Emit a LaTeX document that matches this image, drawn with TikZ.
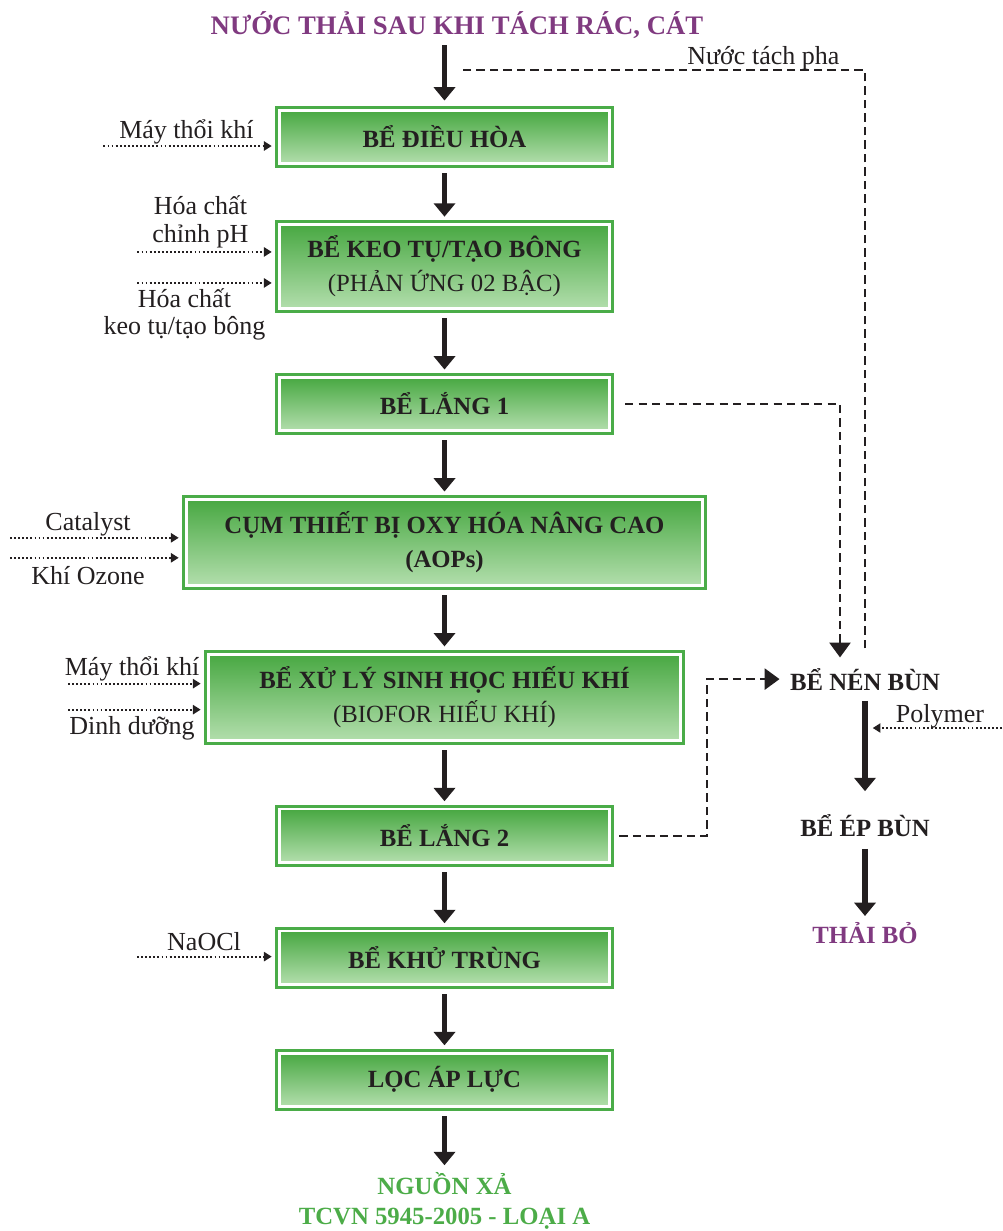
\documentclass[tikz,border=0pt]{standalone}
\usepackage{fontspec}
\setmainfont{Liberation Serif}
\usepackage{xcolor}
\usepackage{tikz}
\usetikzlibrary{arrows.meta, positioning, calc}

\definecolor{tankgreen}{RGB}{74,172,72}
\definecolor{tanktop}{RGB}{72,168,66}
\definecolor{tankbottom}{RGB}{178,222,172}
\definecolor{ink}{RGB}{35,31,32}
\definecolor{plum}{RGB}{128,58,128}
\definecolor{leaf}{RGB}{76,172,72}

\begin{document}
\begin{tikzpicture}[x=0.025cm, y=-0.025cm, node distance=1.72cm,
					tank/.style={rectangle, minimum width=8.25cm, minimum height=1.33cm, inner sep=2pt, outer sep=0pt, top color=tanktop, bottom color=tankbottom, draw=white, line width=2.1pt, preaction={draw=tankgreen, line width=6.3pt}, text=ink, align=center, font=\fontsize{17.6}{24}\selectfont\bfseries},
					plain/.style={text=ink, inner sep=3pt, font=\fontsize{17.6}{21.3}\selectfont\bfseries},
					note/.style={text=ink, inner sep=0pt, align=center, font=\fontsize{18.5}{19.5}\selectfont},
					flow/.style={-{Triangle[width=15pt, length=9.5pt]}, line width=3.2pt, draw=ink, shorten <=7pt, shorten >=5.5pt},
					sludge/.style={-{Triangle[width=15pt, length=10.5pt]}, line width=1.4pt, draw=ink, dash pattern=on 6pt off 3.6pt},
					feed/.style={-{Triangle[width=6.5pt, length=5.5pt]}, line width=1.3pt, draw=ink, dash pattern=on 1.3pt off 1.6pt, shorten >=5.5pt}
				]
					\useasboundingbox (0,0) rectangle (1002,1231);
					
					% Nodes
					\node[plain, text=plum, font=\fontsize{19}{22}\selectfont\bfseries, anchor=base] (nguon) at (457,34.5) {NƯỚC THẢI SAU KHI TÁCH RÁC, CÁT};
					\node[tank] (dieuhoa) at (444.5,137) {BỂ ĐIỀU HÒA};
					\node[tank, minimum height=2.1cm, below=1.52cm of dieuhoa] (keotu) {BỂ KEO TỤ/TẠO BÔNG\\{\mdseries (PHẢN ỨNG 02 BẬC)}};
					\node[tank, below=of keotu] (lang1) {BỂ LẮNG 1};
					\node[tank, minimum width=12.9cm, minimum height=2.15cm, below=of lang1] (aop) {CỤM THIẾT BỊ OXY HÓA NÂNG CAO\\(AOPs)};
					\node[tank, minimum width=11.8cm, minimum height=2.15cm, below=of aop] (sinhhoc) {BỂ XỬ LÝ SINH HỌC HIẾU KHÍ\\{\mdseries (BIOFOR HIẾU KHÍ)}};
					\node[tank, below=of sinhhoc] (lang2) {BỂ LẮNG 2};
					\node[tank, below=of lang2] (khutrung) {BỂ KHỬ TRÙNG};
					\node[tank, below=of khutrung] (locap) {LỌC ÁP LỰC};
					\node[plain, text=leaf, align=center, inner sep=0pt, below=1.65cm of locap] (xa) {NGUỒN XẢ\\TCVN 5945-2005 - LOẠI A};
					
					% Sludge line
					\node[plain, anchor=base] (nenbun) at (865,690) {BỂ NÉN BÙN};
					\node[plain, anchor=base] (epbun) at (865,836) {BỂ ÉP BÙN};
					\node[plain, text=plum, anchor=base] (thaibo) at (865,943) {THẢI BỎ};
					
					% Dosing points
					\coordinate (air1) at ($(dieuhoa.west)+(-176,9)$);
					\coordinate (ph) at ($(keotu.west)+(-142,-14.5)$);
					\coordinate (floc) at ($(keotu.west)+(-142,16.5)$);
					\coordinate (cat) at ($(aop.west)+(-176.4,-4.5)$);
					\coordinate (ozone) at ($(aop.west)+(-176.4,15.5)$);
					\coordinate (air2) at ($(sinhhoc.west)+(-140.4,-13.5)$);
					\coordinate (nutri) at ($(sinhhoc.west)+(-140.4,12.5)$);
					\coordinate (chlor) at ($(khutrung.west)+(-142.4,-1)$);
					\coordinate (poly) at ($(nenbun.base)+(137,38)$);
					\coordinate (merge) at ($(dieuhoa.north)+(14,-40)$);
					\coordinate (bend) at ($(lang2.east)+(97.4,0)$);
					
					\node[note, anchor=base] (blower1) at ($(air1)+(83,-8)$) {Máy thổi khí};
					\node[note, anchor=south] (phlbl) at ($(ph)+(63,-4)$) {Hóa chất\\chỉnh pH};
					\node[note, anchor=north] (floclbl) at ($(floc)+(47,5)$) {Hóa chất\\keo tụ/tạo bông};
					\node[note, anchor=base] (catlbl) at ($(cat)+(78,-7)$) {Catalyst};
					\node[note, anchor=base] (ozonelbl) at ($(ozone)+(78,27)$) {Khí Ozone};
					\node[note, anchor=base] (blower2) at ($(air2)+(64,-8)$) {Máy thổi khí};
					\node[note, anchor=base] (nutrilbl) at ($(nutri)+(64,25)$) {Dinh dưỡng};
					\node[note, anchor=base] (naocl) at ($(chlor)+(67,-6)$) {NaOCl};
					\node[note, anchor=base] (polylbl) at ($(poly)+(-62,-6)$) {Polymer};
					
					% Arrows
					\draw[flow, shorten <=1.5pt, shorten >=7pt] (dieuhoa.north |- nguon.south) -- (dieuhoa.north);
					\draw[flow] (dieuhoa) -- (keotu);
					\draw[flow] (keotu) -- (lang1);
					\draw[flow] (lang1) -- (aop);
					\draw[flow] (aop) -- (sinhhoc);
					\draw[flow] (sinhhoc) -- (lang2);
					\draw[flow] (lang2) -- (khutrung);
					\draw[flow] (khutrung) -- (locap);
					\draw[flow, shorten >=5pt] (locap) -- (xa);
					\draw[flow, line width=4pt, shorten <=4.3pt, shorten >=13pt] (nenbun) -- (epbun);
					\draw[flow, line width=4pt, shorten <=5.7pt, shorten >=1pt] (epbun) -- (thaibo);
					
					\draw[sludge, shorten <=11pt, shorten >=4.3pt] (lang1.east) -| ($(nenbun.north)+(-25,0)$);
					\draw[sludge, shorten <=7pt, shorten >=4.3pt] (lang2.east) -- (bend) |- (nenbun.west);
					\draw[sludge, -, shorten <=10.7pt] (nenbun.north) |- (merge) node[note, anchor=base, pos=0.625, yshift=4.3pt] (tachpha) {Nước tách pha};
					
					\draw[feed] (air1) -- (air1 -| dieuhoa.west);
					\draw[feed] (ph) -- (ph -| keotu.west);
					\draw[feed] (floc) -- (floc -| keotu.west);
					\draw[feed] (cat) -- (cat -| aop.west);
					\draw[feed] (ozone) -- (ozone -| aop.west);
					\draw[feed] (air2) -- (air2 -| sinhhoc.west);
					\draw[feed] (nutri) -- (nutri -| sinhhoc.west);
					\draw[feed] (chlor) -- (chlor -| khutrung.west);
					\draw[feed] (poly) -- (poly -| nenbun.base);
				\end{tikzpicture}
\end{document}
